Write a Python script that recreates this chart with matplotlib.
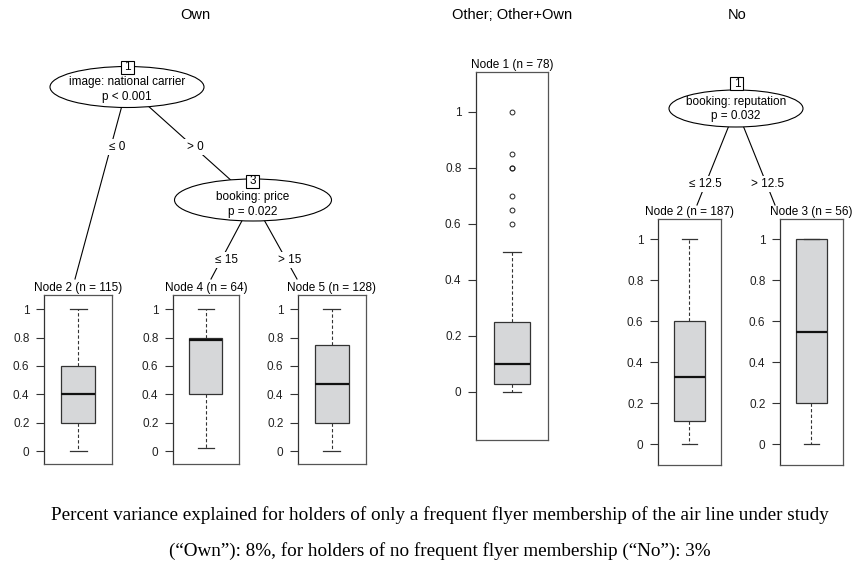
import matplotlib
matplotlib.use("Agg")
import matplotlib.pyplot as plt
from matplotlib.patches import Ellipse, Rectangle

W, H = 853, 570

# terminal node summaries (share of ... per node)
node_labels = ["Node 2 (n = 115)", "Node 4 (n = 64)", "Node 5 (n = 128)",
               "Node 1 (n = 78)", "Node 2 (n = 187)", "Node 3 (n = 56)"]
whis_lo = [0.0, 0.02, 0.0, 0.0, 0.0, 0.0]
q1 = [0.2, 0.4, 0.2, 0.03, 0.115, 0.2]
median = [0.4, 0.78, 0.475, 0.1, 0.33, 0.55]
q3 = [0.6, 0.8, 0.75, 0.25, 0.6, 1.0]
whis_hi = [1.0, 1.0, 1.0, 0.5, 1.0, 1.0]
outliers = [[], [], [], [0.6, 0.65, 0.7, 0.8, 0.8, 0.85, 1.0], [], []]

panel_titles = ["Own", "Other; Other+Own", "No"]
split_vars = ["image: national carrier", "booking: price", "booking: reputation"]
split_p = ["p < 0.001", "p = 0.022", "p = 0.032"]
split_ids = ["1", "3", "1"]
edge_labels = ["\u2264 0", "> 0", "\u2264 15", "> 15", "\u2264 12.5", "> 12.5"]
y_ticks = [0, 0.2, 0.4, 0.6, 0.8, 1]
y_ticklabels = ["0", "0.2", "0.4", "0.6", "0.8", "1"]

caption = ["Percent variance explained for holders of only a frequent flyer membership of the air line under study",
           "(\u201cOwn\u201d): 8%, for holders of no frequent flyer membership (\u201cNo\u201d): 3%"]

plt.rcParams["font.family"] = ["Liberation Sans", "DejaVu Sans"]
fig = plt.figure(figsize=(W / 100, H / 100), dpi=100)
cv = fig.add_axes([0, 0, 1, 1])
cv.set_xlim(0, W)
cv.set_ylim(H, 0)
cv.axis("off")

fs = 8.5
dark = "#333333"

# panel titles
for t, x in zip(panel_titles, [195, 512, 737]):
    cv.text(x, 15, t, ha="center", va="center", fontsize=10.5)

# edges (parent centre -> child)
edges = [((127, 87), (75, 279)), ((127, 87), (253, 200)),
         ((253, 200), (211, 279)), ((253, 200), (297, 279)),
         ((736, 108), (697, 205)), ((736, 108), (775, 205))]
for (x0, y0), (x1, y1) in edges:
    cv.plot([x0, x1], [y0, y1], color="black", lw=0.8, zorder=1)

edge_pos = [(117, 147), (195, 147), (227, 260), (290, 260), (705, 184), (768, 184)]
for lab, (x, y) in zip(edge_labels, edge_pos):
    cv.text(x, y, lab, ha="center", va="center", fontsize=fs, zorder=3,
            bbox=dict(facecolor="white", edgecolor="none", pad=1.5))

# inner nodes
inner = [((127, 87, 154, 41), (127.5, 67), (127, 81.7), (127, 96.7)),
         ((253, 200, 157, 42), (253, 181), (253, 196.7), (253, 211.7)),
         ((736, 108.5, 134, 37), (737, 83.5), (736, 101.7), (736, 115.5))]
for i, ((cx, cy, ew, eh), (bx, by), t1, t2) in enumerate(inner):
    cv.add_patch(Ellipse((cx, cy), ew, eh, facecolor="white", edgecolor="black", lw=0.8, zorder=4))
    cv.add_patch(Rectangle((bx - 6.5, by - 6.5), 13, 13, facecolor="white", edgecolor="black", lw=0.8, zorder=5))
    cv.text(bx, by + 0.5, split_ids[i], ha="center", va="center", fontsize=fs, zorder=6)
    cv.text(*t1, split_vars[i], ha="center", va="center", fontsize=fs, zorder=6)
    cv.text(*t2, split_p[i], ha="center", va="center", fontsize=fs, zorder=6)

# terminal node boxplots: pixel frame + pixel position of 1 and 0
frames = [(44, 295, 112, 464, 309.3, 451), (173, 295, 239, 464, 309.3, 451),
          (298, 295, 366, 464, 309.3, 451), (476, 72, 548, 440, 112, 392),
          (658, 219, 721, 465, 239.3, 444.3), (780, 219, 843, 465, 239.3, 444.3)]
for i, (x0, y0, x1, y1, p1, p0) in enumerate(frames):
    ax = fig.add_axes([x0 / W, 1 - y1 / H, (x1 - x0) / W, (y1 - y0) / H])
    sc = p0 - p1
    ax.set_ylim(-(y1 - p0) / sc, 1 + (p1 - y0) / sc)
    ax.set_xlim(0, 1)
    stats = [dict(whislo=whis_lo[i], q1=q1[i], med=median[i], q3=q3[i],
                  whishi=whis_hi[i], fliers=outliers[i])]
    ax.bxp(stats, positions=[0.5], widths=0.5, capwidths=0.25, patch_artist=True,
           boxprops=dict(facecolor="#d6d7d9", edgecolor=dark, lw=0.9),
           medianprops=dict(color="#111111", lw=1.6),
           whiskerprops=dict(color=dark, lw=0.8, linestyle=(0, (3, 2))),
           capprops=dict(color=dark, lw=0.9),
           flierprops=dict(marker="o", markersize=3.5, markerfacecolor="none",
                           markeredgecolor="#222222", markeredgewidth=0.7))
    ax.set_xticks([])
    ax.set_yticks(y_ticks)
    ax.set_yticklabels(y_ticklabels)
    ax.tick_params(axis="y", direction="out", length=5.5, width=0.8, pad=5,
                   labelsize=fs, color=dark, labelcolor="#222222")
    for s in ax.spines.values():
        s.set_color("#555555")
        s.set_linewidth(0.9)
    ax.spines["left"].set_color(dark)
    cv.text((x0 + x1) / 2, y0 - 7, node_labels[i], ha="center", va="center", fontsize=fs)

# caption
for line, (x, y) in zip(caption, [(440, 515), (440, 551)]):
    cv.text(x, y, line, ha="center", va="center", fontsize=13.8,
            family=["Liberation Serif", "DejaVu Serif"])

fig.savefig("out.png", dpi=100)
